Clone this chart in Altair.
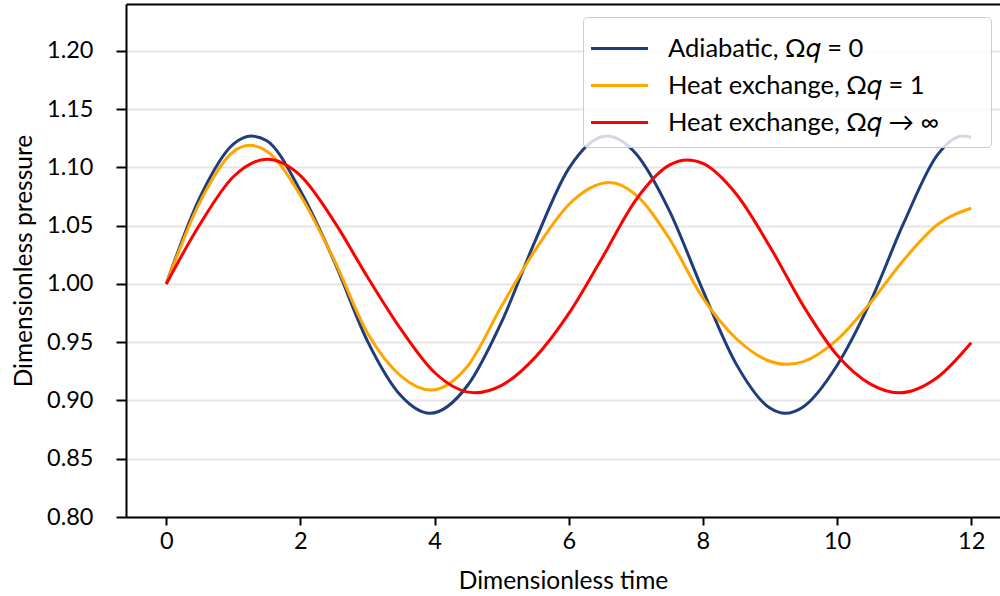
import altair as alt
import pandas as pd

# Adiabatic, Omega_q = 0
t_adiabatic = [0, 0.5, 1.0, 1.27, 1.5, 2.0, 2.5, 3.0, 3.5, 3.93, 4.5, 5.0, 5.5, 6.0, 6.57,
               7.0, 7.5, 8.0, 8.5, 9.0, 9.23, 9.5, 10.0, 10.5, 11.0, 11.5, 11.87, 12.0]
p_adiabatic = [1.000, 1.074, 1.120, 1.127, 1.123, 1.080, 1.020, 0.951, 0.904, 0.889, 0.9135,
               0.9675, 1.037, 1.099, 1.127, 1.112, 1.063, 0.9945, 0.931, 0.8935, 0.889, 0.8947,
               0.930, 0.985, 1.053, 1.111, 1.127, 1.126]

# Heat exchange, Omega_q = 1
t_heat1 = [0, 0.5, 1.0, 1.24, 1.5, 2.0, 2.5, 3.0, 3.5, 3.95, 4.5, 5.0, 5.5, 6.0, 6.61,
           7.0, 7.5, 8.0, 8.5, 9.0, 9.25, 9.5, 10.0, 10.5, 11.0, 11.5, 12.0]
p_heat1 = [1.000, 1.070, 1.1135, 1.119, 1.114, 1.076, 1.021, 0.958, 0.921, 0.909, 0.930,
           0.981, 1.029, 1.068, 1.087, 1.0765, 1.039, 0.988, 0.953, 0.9337, 0.931, 0.9334,
           0.952, 0.984, 1.021, 1.051, 1.065]

# Heat exchange, Omega_q -> infinity
t_heatinf = [0, 0.5, 1.0, 1.5, 2.0, 2.5, 3.0, 3.5, 4.0, 4.6, 5.0, 5.5, 6.0, 6.5, 7.0, 7.5,
             7.77, 8.0, 8.5, 9.0, 9.5, 10.0, 10.5, 10.92, 11.5, 12.0]
p_heatinf = [1.000, 1.051, 1.092, 1.107, 1.093, 1.054, 1.006, 0.961, 0.924, 0.9066, 0.913,
             0.937, 0.9745, 1.0226, 1.072, 1.102, 1.1065, 1.1035, 1.077, 1.032, 0.981, 0.939,
             0.914, 0.9066, 0.920, 0.9496]

series_names = ["Adiabatic, Ω𝑞 = 0", "Heat exchange, Ω𝑞 = 1", "Heat exchange, Ω𝑞 → ∞"]
series_colors = ["#1F3D7A", "#FFA500", "#FF0000"]
x_ticks = [0, 2, 4, 6, 8, 10, 12]
y_ticks = [0.80, 0.85, 0.90, 0.95, 1.00, 1.05, 1.10, 1.15, 1.20]

rows = []
for name, ts, ps in zip(series_names, [t_adiabatic, t_heat1, t_heatinf],
                        [p_adiabatic, p_heat1, p_heatinf]):
    for t, p in zip(ts, ps):
        rows.append({"t": t, "p": p, "series": name})
df = pd.DataFrame(rows)

FONT = "Lato"
xscale = alt.Scale(domain=[-0.6, 12.43], nice=False, zero=False)
yscale = alt.Scale(domain=[0.80, 1.2403], nice=False, zero=False)

lines = alt.Chart(df).mark_line(strokeWidth=3, interpolate="monotone", clip=True).encode(
    x=alt.X("t:Q", scale=xscale,
            axis=alt.Axis(values=x_ticks, title="Dimensionless time", grid=False,
                          domainColor="black", domainWidth=2, tickColor="black",
                          tickWidth=2, tickSize=8, labelPadding=4, labelFontSize=23.5,
                          labelColor="black", labelFont=FONT, titleFont=FONT,
                          titleFontSize=24.5, titleFontWeight="normal", titleColor="black",
                          titlePadding=17)),
    y=alt.Y("p:Q", scale=yscale,
            axis=alt.Axis(values=y_ticks, format=".2f", title="Dimensionless pressure",
                          grid=True, gridColor="#e5e5e5", gridWidth=2,
                          domainColor="black", domainWidth=2, tickColor="black",
                          tickWidth=2, tickSize=10, labelPadding=23, labelFontSize=23.5,
                          labelColor="black", labelFont=FONT, titleFont=FONT,
                          titleFontSize=24.5, titleFontWeight="normal", titleColor="black",
                          titlePadding=10)),
    color=alt.Color("series:N",
                    scale=alt.Scale(domain=series_names, range=series_colors),
                    sort=series_names,
                    legend=alt.Legend(title=".", titleOpacity=0, titleFontSize=2,
                                      titleOrient="right", titlePadding=40,
                                      orient="none", legendX=457, legendY=13,
                                      symbolType="M-1.5,0H1.5", symbolSize=1444,
                                      symbolStrokeWidth=3, symbolOffset=5,
                                      labelFontSize=25.5, labelLimit=600,
                                      labelFont=FONT, labelColor="black", labelOffset=28,
                                      rowPadding=3, padding=11,
                                      fillColor="rgba(255,255,255,0.8)",
                                      strokeColor="#cccccc", cornerRadius=4)),
)

top = alt.Chart(df).mark_line(opacity=0).encode(
    x=alt.X("t:Q", scale=xscale,
            axis=alt.Axis(orient="top", labels=False, ticks=False, title=None, grid=False,
                          domainColor="black", domainWidth=2)),
    y=alt.Y("p:Q", scale=yscale, axis=None),
)

chart = alt.layer(lines, top).resolve_axis(x="independent", y="independent").properties(
    width=874, height=513,
    autosize=alt.AutoSizeParams(type="none"),
    padding={"left": 126, "top": 4, "right": 0, "bottom": 79},
).configure_view(stroke=None)

chart.save("out.html", embed_options={"renderer": "svg", "actions": False})
